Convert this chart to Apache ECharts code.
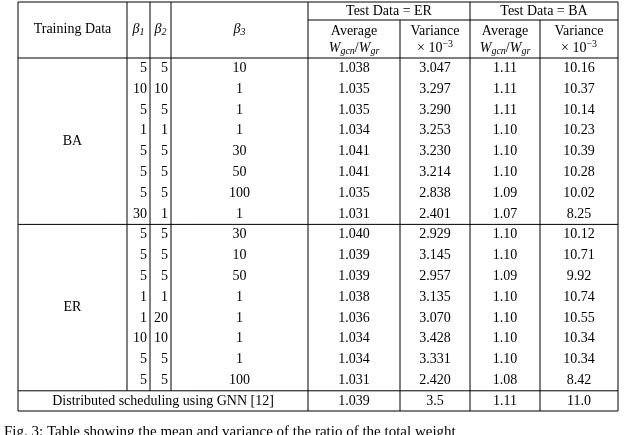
<!DOCTYPE html>
<html><head><meta charset="utf-8">
<script src="https://cdn.jsdelivr.net/npm/echarts@6/dist/echarts.min.js"></script>
<style>html,body{margin:0;padding:0;background:#fff}#c{width:640px;height:435px}</style>
</head><body><div id="c"></div>
<script>
// table values
const groups = ['BA', 'ER'];
const beta1 = [5, 10, 5, 1, 5, 5, 5, 30, 5, 5, 5, 1, 1, 10, 5, 5];
const beta2 = [5, 10, 5, 1, 5, 5, 5, 1, 5, 5, 5, 1, 20, 10, 5, 5];
const beta3 = [10, 1, 1, 1, 30, 50, 100, 1, 30, 10, 50, 1, 1, 1, 1, 100];
const erAvg = ['1.038', '1.035', '1.035', '1.034', '1.041', '1.041', '1.035', '1.031', '1.040', '1.039', '1.039', '1.038', '1.036', '1.034', '1.034', '1.031'];
const erVar = ['3.047', '3.297', '3.290', '3.253', '3.230', '3.214', '2.838', '2.401', '2.929', '3.145', '2.957', '3.135', '3.070', '3.428', '3.331', '2.420'];
const baAvg = ['1.11', '1.11', '1.11', '1.10', '1.10', '1.10', '1.09', '1.07', '1.10', '1.10', '1.09', '1.10', '1.10', '1.10', '1.10', '1.08'];
const baVar = ['10.16', '10.37', '10.14', '10.23', '10.39', '10.28', '10.02', '8.25', '10.12', '10.71', '9.92', '10.74', '10.55', '10.34', '10.34', '8.42'];
const lastRow = ['Distributed scheduling using GNN [12]', '1.039', '3.5', '1.11', '11.0'];

const FONT = '"Liberation Serif", "DejaVu Serif", serif';
const colX = [18, 127, 150, 171, 308, 400, 470, 540, 618];
const topY = 2, hdrMid = 20, hdrBot = 58, rowH = 20.8, botY = 411;
const els = [];
function line(x1, y1, x2, y2) {
  els.push({type: 'line', shape: {x1, y1, x2, y2}, style: {stroke: '#000', lineWidth: 1}});
}
function text(x, y, t, extra) {
  els.push({type: 'text', x, y, style: Object.assign({text: t, font: '14px ' + FONT, fill: '#000', align: 'center', verticalAlign: 'middle'}, extra || {})});
}
const rich = {i: {fontStyle: 'italic', fontSize: 14, fontFamily: FONT}, s: {fontStyle: 'italic', fontSize: 10, fontFamily: FONT, verticalAlign: 'bottom', padding: [6, 0, 0, 0]}, n: {fontSize: 14, fontFamily: FONT}, e: {fontSize: 10, fontFamily: FONT, padding: [0, 0, 8, 0]}};
const n = beta1.length;
const grpEnd = hdrBot + 8 * rowH;
// horizontal rules
line(colX[0], topY, colX[8], topY);
line(colX[4], hdrMid, colX[8], hdrMid);
line(colX[0], hdrBot, colX[8], hdrBot);
line(colX[0], grpEnd, colX[8], grpEnd);
line(colX[0], hdrBot + n * rowH, colX[8], hdrBot + n * rowH);
line(colX[0], botY, colX[8], botY);
// vertical rules
colX.forEach((x, i) => {
  let y1 = topY;
  if (i === 5 || i === 7) y1 = hdrMid;
  const y2 = (i >= 1 && i <= 3) ? hdrBot + n * rowH : botY;
  line(x, y1, x, y2);
});
const mid = i => (colX[i] + colX[i + 1]) / 2;
// header
text(mid(0), 29, 'Training Data');
text(mid(1), 29, '{i|β}{s|1}', {rich});
text(mid(2), 29, '{i|β}{s|2}', {rich});
text(mid(3), 29, '{i|β}{s|3}', {rich});
text((colX[4] + colX[6]) / 2, 11, 'Test Data = ER');
text((colX[6] + colX[8]) / 2, 11, 'Test Data = BA');
[4, 6].forEach(c => {
  text(mid(c), 31, 'Average');
  text(mid(c), 48, '{i|W}{s|gcn}{n|/}{i|W}{s|gr}', {rich});
  text(mid(c + 1), 31, 'Variance');
  text(mid(c + 1), 48, '{n|× 10}{e|−3}', {rich});
});
// groups
groups.forEach((g, k) => text(mid(0), hdrBot + (k * 8 + 4) * rowH, g));
// body
for (let r = 0; r < n; r++) {
  const y = hdrBot + (r + 0.5) * rowH;
  text(colX[2] - 3, y, String(beta1[r]), {align: 'right'});
  text(colX[3] - 3, y, String(beta2[r]), {align: 'right'});
  text(mid(3), y, String(beta3[r]));
  text(mid(4), y, erAvg[r]);
  text(mid(5), y, erVar[r]);
  text(mid(6), y, baAvg[r]);
  text(mid(7), y, baVar[r]);
}
const ly = (hdrBot + n * rowH + botY) / 2;
text((colX[0] + colX[4]) / 2, ly, lastRow[0]);
lastRow.slice(1).forEach((v, i) => text(mid(4 + i), ly, v));
// caption (cut off at the bottom)
text(4, 432, 'Fig. 3: Table showing the mean and variance of the ratio of the total weight', {align: 'left', font: '15px ' + FONT});

const chart = echarts.init(document.getElementById('c'));
chart.setOption({animation: false, graphic: els});
</script></body></html>
